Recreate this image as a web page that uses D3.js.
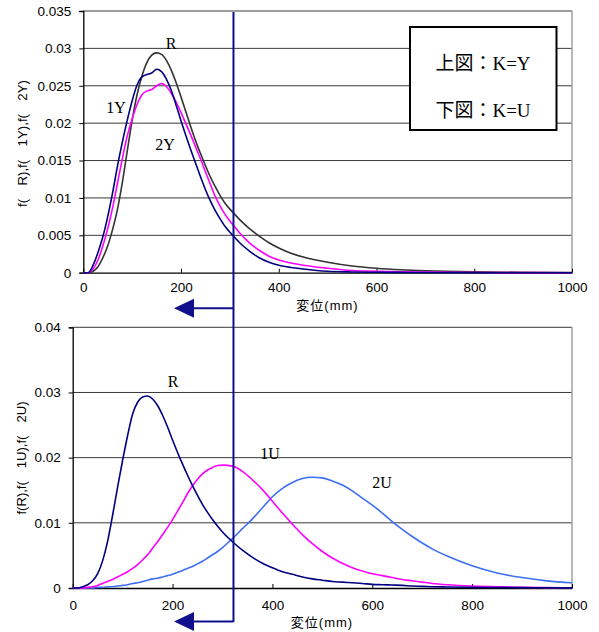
<!DOCTYPE html>
<html>
<head>
<meta charset="utf-8">
<script src="https://cdn.jsdelivr.net/npm/d3@7"></script>
<style>
  html, body { margin: 0; padding: 0; background: #fff; }
  svg { display: block; }
  .tick text { font-family: "Liberation Sans", Arial, sans-serif; font-size: 13.5px; fill: #000; }
</style>
</head>
<body>
<svg id="chart" width="599" height="632"></svg>
<script>
// ---- Upper panel: K = Y (displacement in mm vs. probability density) ----
const topX = [0,10,20,30,40,50,60,70,80,90,100,110,120,130,140,150,160,170,180,190,200,
  210,220,230,240,250,260,270,280,290,300,310,320,340,360,380,400,425,450,500,550,600,650,700,800,900,1000];
const topR = [0,0,0.0002,0.0008,0.0020,0.0036,0.0058,0.0085,0.0121,0.0163,0.0204,0.0238,0.0263,0.0281,0.0291,0.0294,0.0292,0.0284,0.0271,0.0254,0.0235,
  0.0215,0.0195,0.0176,0.0159,0.0143,0.0128,0.0115,0.0103,0.0093,0.0085,0.0078,0.0071,0.0059,0.0049,0.0040,0.0033,0.0026,0.0021,0.0014,0.0009,0.0006,0.0004,0.00027,0.00012,0.00005,0.00002];
const top1Y = [0,0,0.0010,0.0027,0.0048,0.0075,0.0107,0.0143,0.0175,0.0204,0.0230,0.0251,0.0262,0.0265,0.0267,0.0272,0.0269,0.0259,0.0244,0.0224,0.0203,
  0.0183,0.0164,0.0146,0.0128,0.0111,0.0096,0.0083,0.0072,0.0062,0.0054,0.0047,0.0040,0.0029,0.0020,0.0014,0.0010,0.0007,0.0005,0.0002,0.0001,0.00006,0.00004,0.00002,0,0,0];
const top2Y = [0,0,0.0005,0.0017,0.0036,0.0059,0.0087,0.0120,0.0153,0.0183,0.0206,0.0225,0.0238,0.0243,0.0245,0.0250,0.0253,0.0249,0.0240,0.0228,0.0214,
  0.0199,0.0184,0.0168,0.0152,0.0135,0.0118,0.0102,0.0089,0.0078,0.0069,0.0061,0.0053,0.0040,0.0030,0.0022,0.0017,0.0013,0.0010,0.0006,0.0003,0.0002,0.00012,0.00008,0.00003,0.00001,0];

// ---- Lower panel: K = U ----
const botX = [0,10,20,30,40,50,60,70,80,90,100,110,120,130,140,150,160,170,180,190,200,210,220,230,240,250,260,270,280,290,300,
  320,340,360,380,400,420,440,460,480,500,520,540,560,580,600,620,640,660,680,700,720,750,800,850,900,950,1000];
const botR = [0,0,0.0002,0.0005,0.0011,0.0022,0.0042,0.0072,0.0112,0.0155,0.0196,0.0234,0.0267,0.0285,0.0293,0.02945,0.0290,0.0280,0.0265,0.0247,0.0227,0.0208,0.0190,0.0173,0.0157,0.0142,0.0128,0.0116,0.0105,0.0095,0.0086,
  0.0071,0.0058,0.0047,0.0038,0.0031,0.0025,0.0021,0.0017,0.0014,0.0012,0.0010,0.0009,0.0008,0.0007,0.00055,0.0005,0.00045,0.0004,0.0003,0.00025,0.0002,0.00016,0.0001,0.00007,0.00005,0.00003,0.00002];
const bot1U = [0,0,0,0.0001,0.0002,0.0004,0.0007,0.0010,0.0013,0.0017,0.0021,0.0025,0.0030,0.0036,0.0043,0.0051,0.0061,0.0071,0.0082,0.0093,0.0105,0.0118,0.0131,0.0145,0.0157,0.0167,0.0175,0.0181,0.0185,0.0188,0.01885,
  0.0187,0.0179,0.0166,0.0151,0.0133,0.0115,0.0098,0.0082,0.0068,0.0056,0.0046,0.0038,0.0031,0.0026,0.0022,0.0019,0.0016,0.0013,0.0011,0.0009,0.0007,0.0005,0.0003,0.0002,0.0001,0.00006,0.00004];
const bot2U = [0,0,0,0,0,0.0001,0.0001,0.0002,0.0002,0.0003,0.0004,0.0005,0.0007,0.0008,0.0010,0.0012,0.0014,0.0015,0.0017,0.0019,0.0021,0.0024,0.0027,0.0030,0.0033,0.0037,0.0041,0.0046,0.0051,0.0056,0.0062,
  0.0076,0.0091,0.0106,0.0123,0.0140,0.0153,0.0162,0.0168,0.0170,0.0169,0.0164,0.0158,0.0149,0.0138,0.0127,0.0115,0.0102,0.0090,0.0079,0.0069,0.0060,0.0049,0.0034,0.0023,0.0016,0.0011,0.0008];

const xTicks = [0,200,400,600,800,1000];
const topYTicks = [0,0.005,0.01,0.015,0.02,0.025,0.03,0.035];
const botYTicks = [0,0.01,0.02,0.03,0.04];

// Displacement limit marked by the vertical line (mm, lower-panel scale)
const limitValue = 322;

const svg = d3.select("#chart");

const xTop = d3.scaleLinear().domain([0,1000]).range([83.3, 572]);
const yTop = d3.scaleLinear().domain([0,0.035]).range([272.7, 11]);
const xBot = d3.scaleLinear().domain([0,1000]).range([72.7, 572]);
const yBot = d3.scaleLinear().domain([0,0.04]).range([588, 327.3]);

function panel(xs, ys, yTicks, yFmt, tickPad, xPad) {
  const g = svg.append("g");
  const [x0, x1] = xs.range();
  const [y0, y1] = ys.range();
  // gridlines
  g.selectAll("line.grid").data(yTicks.slice(1)).join("line")
    .attr("x1", x0).attr("x2", x1)
    .attr("y1", d => ys(d)).attr("y2", d => ys(d))
    .attr("stroke", "#3a3a3a").attr("stroke-width", 1);
  // right frame
  g.append("line").attr("x1", x1).attr("x2", x1).attr("y1", y1).attr("y2", y0)
    .attr("stroke", "#a0a0a0").attr("stroke-width", 1.5);
  // axes
  const ya = g.append("g").attr("transform", `translate(${x0},0)`)
    .call(d3.axisLeft(ys).tickValues(yTicks).tickFormat(yFmt).tickSize(4).tickPadding(tickPad));
  ya.select(".domain").attr("stroke", "#000").attr("stroke-width", 1.3);
  const xa = g.append("g").attr("transform", `translate(0,${y0})`)
    .call(d3.axisBottom(xs).tickValues(xTicks).tickFormat(d3.format("d")).tickSizeInner(-4).tickSizeOuter(0).tickPadding(xPad));
  xa.select(".domain").attr("stroke", "#000").attr("stroke-width", 1.3);
  return g;
}

const gTop = panel(xTop, yTop, topYTicks, d => d === 0 ? "0" : d3.format("")(d), 8, 10);
const gBot = panel(xBot, yBot, botYTicks, d => d === 0 ? "0" : d3.format("")(d), 8, 12);

function drawCurve(g, xs, ys, xv, yv, color) {
  const pts = xv.map((v, i) => [v, yv[i]]);
  g.append("path").datum(pts)
    .attr("fill", "none").attr("stroke", color).attr("stroke-width", 1.6)
    .attr("d", d3.line().x(d => xs(d[0])).y(d => ys(d[1])).curve(d3.curveMonotoneX));
}

drawCurve(gTop, xTop, yTop, topX, topR, "#333333");
drawCurve(gTop, xTop, yTop, topX, top2Y, "#ff00ff");
drawCurve(gTop, xTop, yTop, topX, top1Y, "#000080");

drawCurve(gBot, xBot, yBot, botX, bot2U, "#3d6ef5");
drawCurve(gBot, xBot, yBot, botX, bot1U, "#ff00ff");
drawCurve(gBot, xBot, yBot, botX, botR, "#000080");

// curve labels
const serif = "'Liberation Serif', 'Times New Roman', serif";
const curveLabels = [
  {g: gTop, t: "R", x: 171, y: 43},
  {g: gTop, t: "1Y", x: 116, y: 107},
  {g: gTop, t: "2Y", x: 165, y: 144},
  {g: gBot, t: "R", x: 173, y: 381},
  {g: gBot, t: "1U", x: 270, y: 453},
  {g: gBot, t: "2U", x: 382, y: 482}
];
curveLabels.forEach(l => {
  l.g.append("text").text(l.t).attr("x", l.x).attr("y", l.y)
    .attr("text-anchor", "middle").attr("dominant-baseline", "central")
    .attr("font-family", serif).attr("font-size", 16).attr("fill", "#000");
});

// axis titles
const sans = "'Liberation Sans', Arial, sans-serif";
svg.append("text").text("f(\u2003R),f(\u20031Y),f(\u20032Y)")
  .attr("transform", "translate(27,143.5) rotate(-90)")
  .attr("text-anchor", "middle").attr("font-family", sans).attr("font-size", 12.5)
  .attr("textLength", 127).attr("lengthAdjust", "spacingAndGlyphs");
svg.append("text").text("f(R),f(\u20031U),f(\u20032U)")
  .attr("transform", "translate(26,458) rotate(-90)")
  .attr("text-anchor", "middle").attr("font-family", sans).attr("font-size", 12.5)
  .attr("textLength", 113).attr("lengthAdjust", "spacingAndGlyphs");
svg.append("text").text("変位(mm)").attr("x", 327.5).attr("y", 310)
  .attr("text-anchor", "middle").attr("font-family", sans + ", 'Noto Sans CJK JP'").attr("font-size", 13)
  .attr("letter-spacing", 1);
svg.append("text").text("変位(mm)").attr("x", 322).attr("y", 627)
  .attr("text-anchor", "middle").attr("font-family", sans + ", 'Noto Sans CJK JP'").attr("font-size", 13)
  .attr("letter-spacing", 1);

// note box
const box = svg.append("g");
box.append("rect").attr("x", 410).attr("y", 27).attr("width", 146.5).attr("height", 103)
  .attr("fill", "#fff").attr("stroke", "#000").attr("stroke-width", 2);
[["上図：K=Y", 63], ["下図：K=U", 110]].forEach(([t, y]) => {
  box.append("text").text(t).attr("x", 483).attr("y", y)
    .attr("text-anchor", "middle").attr("dominant-baseline", "central")
    .attr("font-family", "'Liberation Serif', 'Noto Sans CJK JP', serif").attr("font-size", 19);
});

// limit line with arrows
const lx = xBot(limitValue);
const navy = "#10108c";
svg.append("line").attr("x1", lx).attr("x2", lx).attr("y1", 12).attr("y2", 622)
  .attr("stroke", navy).attr("stroke-width", 2);
[308.3, 621.5].forEach(ay => {
  svg.append("line").attr("x1", lx).attr("x2", 193).attr("y1", ay).attr("y2", ay)
    .attr("stroke", navy).attr("stroke-width", 2);
  svg.append("path").attr("d", `M174,${ay} L194,${ay - 9.5} L194,${ay + 9.5} Z`).attr("fill", navy);
});
</script>
</body>
</html>
